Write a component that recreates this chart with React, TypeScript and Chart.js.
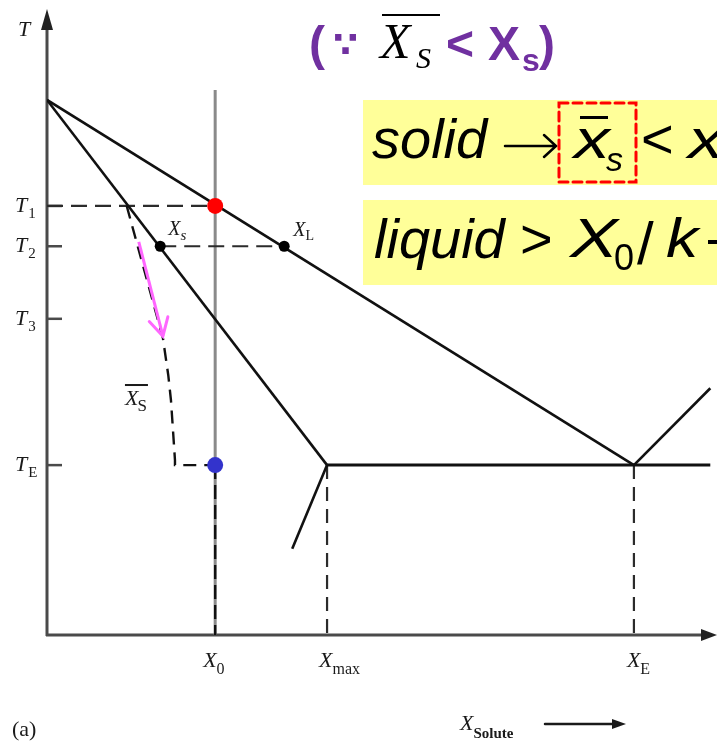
import React, { useEffect, useRef } from "react";
import { Chart, registerables } from "chart.js";

Chart.register(...registerables);

// Temperatures (arbitrary units, 0–100 on the T axis)
const T_MELT = 86.3;
const tempTickNames = ["1", "2", "3", "E"];
const tempTickValues = [69.2, 62.7, 51.0, 27.4];

// Compositions (arbitrary units, 0–100 on the X axis)
const compTickNames = ["0", "max", "E"];
const compTickValues = [25.1, 41.8, 87.6];

// Equilibrium phase boundaries
const liquidusX = [0, 87.6];
const liquidusT = [T_MELT, 27.4];
const solidusX = [0, 41.8];
const solidusT = [T_MELT, 27.4];
const solvusX = [41.8, 36.6];
const solvusT = [27.4, 13.9];
const rightLiquidusX = [87.6, 99];
const rightLiquidusT = [27.4, 39.8];
const eutecticX = [41.8, 99];
const eutecticT = [27.4, 27.4];

// Mean solid composition during non-equilibrium freezing
const meanSolidX = [11.9, 14.6, 17.3, 18.1, 18.5, 18.8, 19.1, 19.1, 25.1];
const meanSolidT = [69.2, 58.5, 47.9, 41.9, 37.9, 33.1, 28.2, 27.4, 27.4];

// Alloy composition line X0
const alloyTopT = 87.9;

// Tie line at T2
const tieX = [16.9, 35.4];
const tieT = [62.7, 62.7];

// Highlighted states
const startPoint = { x: 25.1, y: 69.2 };
const endPoint = { x: 25.1, y: 27.4 };
const tiePoints = [
  { x: 16.9, y: 62.7 },
  { x: 35.4, y: 62.7 },
];

// Shift of the mean solid composition
const shiftX = [13.7, 17.3];
const shiftT = [63.4, 48.2];

const zip = (xs: number[], ys: number[]) => xs.map((x, i) => ({ x, y: ys[i] }));

const SERIF = '"Liberation Serif", "DejaVu Serif", serif';
const SANS = '"Liberation Sans", Arial, sans-serif';
const PURPLE = "#7030a0";

function subText(
  ctx: CanvasRenderingContext2D,
  x: number,
  y: number,
  main: string,
  sub: string,
  mainFont: string,
  subFont: string,
  subDx: number,
  subDy: number
) {
  ctx.font = mainFont;
  ctx.fillText(main, x, y);
  const w = ctx.measureText(main).width;
  ctx.font = subFont;
  ctx.fillText(sub, x + w + subDx, y + subDy);
}

// text drawn with a horizontal stretch (wide math-style glyphs)
function wideText(ctx: CanvasRenderingContext2D, s: string, x: number, y: number, font: string, sx: number) {
  ctx.save();
  ctx.translate(x, y);
  ctx.scale(sx, 1);
  ctx.font = font;
  ctx.fillText(s, 0, 0);
  ctx.restore();
}

const decor = {
  id: "phaseDecor",
  beforeDatasetsDraw(chart: any) {
    const ctx: CanvasRenderingContext2D = chart.ctx;
    const xs = chart.scales.x;
    const ys = chart.scales.y;
    const x0 = xs.getPixelForValue(0);
    const y0 = ys.getPixelForValue(0);
    const right = chart.chartArea.right;
    const topTip = ys.getPixelForValue(100) - 6;
    ctx.save();
    ctx.strokeStyle = "#4a4a4a";
    ctx.fillStyle = "#222";
    ctx.lineWidth = 3;
    // T axis
    ctx.beginPath();
    ctx.moveTo(x0, y0 + 1);
    ctx.lineTo(x0, topTip + 12);
    ctx.stroke();
    ctx.beginPath();
    ctx.moveTo(x0, topTip);
    ctx.lineTo(x0 - 6, topTip + 21);
    ctx.lineTo(x0 + 6, topTip + 21);
    ctx.closePath();
    ctx.fill();
    // X axis
    ctx.beginPath();
    ctx.moveTo(x0 - 1, y0);
    ctx.lineTo(right - 10, y0);
    ctx.stroke();
    ctx.beginPath();
    ctx.moveTo(right, y0);
    ctx.lineTo(right - 16, y0 - 6);
    ctx.lineTo(right - 16, y0 + 6);
    ctx.closePath();
    ctx.fill();
    // T ticks
    ctx.lineWidth = 2.5;
    tempTickValues.forEach((t) => {
      const py = ys.getPixelForValue(t);
      ctx.beginPath();
      ctx.moveTo(x0, py);
      ctx.lineTo(x0 + 15, py);
      ctx.stroke();
    });
    ctx.restore();
  },
  afterDatasetsDraw(chart: any) {
    const ctx: CanvasRenderingContext2D = chart.ctx;
    const xs = chart.scales.x;
    const ys = chart.scales.y;
    ctx.save();

    // arrow head on the composition shift
    {
      const ax = xs.getPixelForValue(shiftX[0]);
      const ay = ys.getPixelForValue(shiftT[0]);
      const bx = xs.getPixelForValue(shiftX[1]);
      const by = ys.getPixelForValue(shiftT[1]);
      const ang = Math.atan2(by - ay, bx - ax);
      ctx.strokeStyle = "#ff66ff";
      ctx.lineWidth = 3;
      ctx.lineCap = "round";
      ctx.beginPath();
      ctx.moveTo(bx - 20 * Math.cos(ang - 0.5), by - 20 * Math.sin(ang - 0.5));
      ctx.lineTo(bx, by);
      ctx.lineTo(bx - 20 * Math.cos(ang + 0.5), by - 20 * Math.sin(ang + 0.5));
      ctx.stroke();
    }

    ctx.fillStyle = "#1a1a1a";
    ctx.textBaseline = "alphabetic";
    ctx.textAlign = "left";

    // axis name T
    ctx.font = `italic 22px ${SERIF}`;
    ctx.fillText("T", 18, 36);

    // T tick labels
    tempTickValues.forEach((t, i) => {
      const py = ys.getPixelForValue(t);
      subText(ctx, 15, py + 6, "T", tempTickNames[i], `italic 22px ${SERIF}`, `15px ${SERIF}`, 1, 6);
    });

    // composition tick labels
    const xLabelDx = [-12, -8, -7];
    compTickValues.forEach((c, i) => {
      const px = xs.getPixelForValue(c);
      subText(ctx, px + xLabelDx[i], 667, "X", compTickNames[i], `italic 22px ${SERIF}`, `16px ${SERIF}`, 0, 7);
    });

    // point labels
    {
      const p = tiePoints[0];
      subText(ctx, xs.getPixelForValue(p.x) + 8, ys.getPixelForValue(p.y) - 11, "X", "s", `italic 20px ${SERIF}`, `italic 15px ${SERIF}`, 0, 5);
      const q = tiePoints[1];
      subText(ctx, xs.getPixelForValue(q.x) + 9, ys.getPixelForValue(q.y) - 10, "X", "L", `italic 20px ${SERIF}`, `14px ${SERIF}`, 0, 4);
    }
    // mean solid label
    {
      const lx = xs.getPixelForValue(meanSolidX[4]) - 46;
      const ly = ys.getPixelForValue(meanSolidT[4]) + 5;
      subText(ctx, lx, ly, "X", "S", `italic 22px ${SERIF}`, `17px ${SERIF}`, -1, 6);
      ctx.fillRect(lx, ly - 21, 23, 2);
    }

    // (a) and axis title
    ctx.font = `22px ${SERIF}`;
    ctx.fillText("(a)", 12, 736);
    subText(ctx, 460, 730, "X", "Solute", `italic 22px ${SERIF}`, `bold 15px ${SERIF}`, 0, 8);
    ctx.strokeStyle = "#1a1a1a";
    ctx.lineWidth = 2.5;
    ctx.beginPath();
    ctx.moveTo(545, 724);
    ctx.lineTo(616, 724);
    ctx.stroke();
    ctx.beginPath();
    ctx.moveTo(626, 724);
    ctx.lineTo(612, 719);
    ctx.lineTo(612, 729);
    ctx.closePath();
    ctx.fill();

    // heading: (∵ X̄_S < X_s)
    ctx.fillStyle = PURPLE;
    ctx.font = `bold 48px ${SANS}`;
    ctx.fillText("(", 309, 60);
    ctx.font = `bold 36px "DejaVu Sans", sans-serif`;
    ctx.fillText("\u2235", 333, 57);
    ctx.fillStyle = "#000";
    ctx.font = `italic 50px ${SERIF}`;
    ctx.fillText("X", 380, 58);
    ctx.font = `italic 30px ${SERIF}`;
    ctx.fillText("S", 416, 68);
    ctx.fillRect(382, 14, 58, 2);
    ctx.fillStyle = PURPLE;
    ctx.font = `bold 48px ${SANS}`;
    ctx.fillText("<", 446, 60);
    ctx.fillText("X", 488, 60);
    ctx.font = `bold 32px ${SANS}`;
    ctx.fillText("s", 522, 71);
    ctx.font = `bold 48px ${SANS}`;
    ctx.fillText(")", 539, 60);

    // highlighted statements
    ctx.fillStyle = "#ffff99";
    ctx.fillRect(363, 100, 354, 85);
    ctx.fillRect(363, 200, 354, 85);

    ctx.fillStyle = "#000";
    ctx.font = `italic 56px ${SANS}`;
    ctx.fillText("solid", 372, 158);
    // arrow →
    ctx.strokeStyle = "#000";
    ctx.lineWidth = 2.5;
    ctx.beginPath();
    ctx.moveTo(505, 146);
    ctx.lineTo(555, 146);
    ctx.moveTo(544, 135);
    ctx.lineTo(556, 146);
    ctx.lineTo(544, 157);
    ctx.stroke();
    wideText(ctx, "x", 574, 158, `italic 55px ${SANS}`, 1.3);
    ctx.fillRect(580, 116, 28, 3);
    ctx.font = `italic 34px ${SANS}`;
    ctx.fillText("s", 606, 171);
    ctx.font = `56px ${SANS}`;
    ctx.fillText("<", 641, 158);
    wideText(ctx, "x", 688, 158, `italic 55px ${SANS}`, 1.3);

    // dashed frame around x̄s
    ctx.strokeStyle = "#ff0000";
    ctx.lineWidth = 3;
    ctx.setLineDash([9, 5]);
    ctx.strokeRect(559, 103, 77, 79);
    ctx.setLineDash([]);

    ctx.font = `italic 56px ${SANS}`;
    ctx.fillText("liquid", 374, 258);
    ctx.font = `56px ${SANS}`;
    ctx.fillText(">", 520, 258);
    wideText(ctx, "X", 570, 257, `italic 56px ${SANS}`, 1.28);
    ctx.font = `36px ${SANS}`;
    ctx.fillText("0", 614, 270);
    ctx.font = `60px ${SANS}`;
    ctx.fillText("/", 637, 264);
    wideText(ctx, "k", 666, 257, `italic 56px ${SANS}`, 1.15);
    ctx.fillRect(708, 240, 9, 4);

    ctx.restore();
  },
};

export default function App() {
  const ref = useRef<HTMLCanvasElement | null>(null);

  useEffect(() => {
    if (!ref.current) return;
    const solid = (data: { x: number; y: number }[], color = "#111", width = 2.6) => ({
      data,
      showLine: true,
      borderColor: color,
      borderWidth: width,
      pointRadius: 0,
      fill: false,
    });
    const dashed = (data: { x: number; y: number }[], dash: number[], color = "#2b2b2b", width = 2.2) => ({
      ...solid(data, color, width),
      borderDash: dash,
    });

    const chart = new Chart(ref.current, {
      type: "scatter",
      data: {
        datasets: [
          { data: [startPoint], pointRadius: 8, pointBackgroundColor: "#ff0000", pointBorderWidth: 0, showLine: false },
          { data: [endPoint], pointRadius: 8, pointBackgroundColor: "#3333cc", pointBorderWidth: 0, showLine: false },
          { data: tiePoints, pointRadius: 5.5, pointBackgroundColor: "#000", pointBorderWidth: 0, showLine: false },
          solid(zip(shiftX, shiftT), "#ff66ff", 3),
          solid(zip(liquidusX, liquidusT)),
          solid(zip(solidusX, solidusT)),
          solid(zip(solvusX, solvusT)),
          solid(zip(rightLiquidusX, rightLiquidusT)),
          solid(zip(eutecticX, eutecticT), "#111", 3),
          dashed(zip(meanSolidX, meanSolidT), [13, 8], "#111", 2.4),
          dashed(zip([0, compTickValues[0]], [tempTickValues[0], tempTickValues[0]]), [16, 8]),
          dashed(zip(tieX, tieT), [16, 8]),
          dashed(zip([compTickValues[0], compTickValues[0]], [tempTickValues[3], 0]), [14, 6], "#111", 2.4),
          dashed(zip([compTickValues[1], compTickValues[1]], [tempTickValues[3], 0]), [14, 8]),
          dashed(zip([compTickValues[2], compTickValues[2]], [tempTickValues[3], 0]), [14, 8]),
          solid(zip([compTickValues[0], compTickValues[0]], [alloyTopT, 0]), "#8a8a8a", 3),
        ] as any,
      },
      options: {
        animation: false,
        responsive: false,
        devicePixelRatio: 1,
        layout: { autoPadding: false, padding: { left: 47, right: 0, top: 15, bottom: 106 } },
        plugins: { legend: { display: false }, tooltip: { enabled: false } },
        events: [],
        elements: { line: { tension: 0 } },
        scales: {
          x: { type: "linear", min: 0, max: 100, display: false },
          y: { type: "linear", min: 0, max: 100, display: false },
        },
      } as any,
      plugins: [decor],
    });
    return () => chart.destroy();
  }, []);

  return (
    <div style={{ position: "absolute", left: 0, top: 0, width: 717, height: 741, background: "#fff" }}>
      <canvas ref={ref} width={717} height={741} style={{ display: "block" }} />
    </div>
  );
}
